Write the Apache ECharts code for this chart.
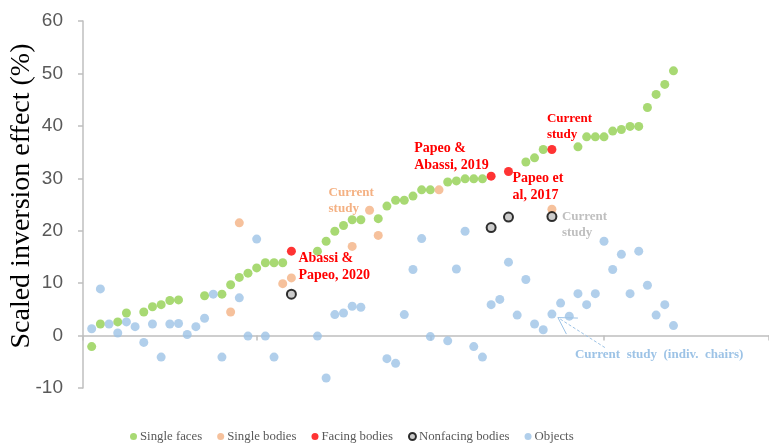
<!DOCTYPE html>
<html>
<head>
<meta charset="utf-8">
<script src="https://cdn.jsdelivr.net/npm/echarts@6/dist/echarts.min.js"></script>
<style>
  html, body { margin: 0; padding: 0; background: #fff; }
  #chart { width: 769px; height: 444px; }
</style>
</head>
<body>
<div id="chart"></div>
<script>
// Study index along x (1..68); null where a category has no study at that index
const singleFaces = [
  -2.1, 2.2, null, 2.6, 4.3, null, 4.5, 5.5, 5.9, 6.7,
  6.8, null, null, 7.6, null, 7.9, 9.7, 11.1, 11.9, 12.9,
  13.9, 13.9, 13.9, null, null, null, 16.1, 18.0, 19.9, 21.0,
  22.1, 22.1, null, 22.3, 24.7, 25.8, 25.8, 26.6, 27.8, 27.8,
  null, 29.3, 29.5, 29.9, 29.9, 29.9, null, null, null, null,
  33.1, 33.9, 35.5, null, null, null, 36.0, 37.9, 37.9, 37.9,
  39.0, 39.3, 39.9, 39.9, 43.5, 46.0, 47.9, 50.5
];
const objects = [
  1.3, 8.9, 2.2, 0.5, 2.6, 1.7, -1.3, 2.2, -4.1, 2.2,
  2.3, 0.2, 1.7, 3.3, 7.9, -4.1, null, 7.2, -0.1, 18.4,
  -0.1, -4.1, null, null, null, null, -0.1, -8.1, 4.0, 4.3,
  5.6, 5.4, null, null, -4.4, -5.3, 4.0, 12.6, 18.5, -0.2,
  null, -1.0, 12.7, 19.9, -2.1, -4.1, 5.9, 6.9, 14.0, 3.9,
  10.7, 2.2, 1.1, 4.1, 6.2, 3.7, 8.0, 5.9, 8.0, 18.0,
  12.6, 15.5, 8.0, 16.1, 9.6, 3.9, 5.9, 1.9
];
const singleBodiesIdx = [17, 18, 23, 24, 31, 33, 34, 41, 54];
const singleBodies    = [4.5, 21.5, 9.9, 11.0, 17.0, 23.9, 19.1, 27.8, 24.1];
const facingIdx       = [24, 47, 49, 54];
const facingBodies    = [16.1, 30.4, 31.3, 35.5];
const nonfacingIdx    = [24, 47, 49, 54];
const nonfacingBodies = [7.9, 20.6, 22.6, 22.7];
const yTicks = [-10, 0, 10, 20, 30, 40, 50, 60];

const seriesNames = ['Single faces', 'Single bodies', 'Facing bodies', 'Nonfacing bodies', 'Objects'];

function dense(vals) {
  const out = [];
  vals.forEach((v, i) => { if (v !== null) out.push([i + 1, v]); });
  return out;
}
function sparse(idx, vals) {
  return idx.map((x, i) => [x, vals[i]]);
}

const serif = '"Liberation Serif", "Times New Roman", serif';
const chart = echarts.init(document.getElementById('chart'));

chart.setOption({
  animation: false,
  backgroundColor: '#ffffff',
  grid: { left: 83, right: 0, top: 21, bottom: 56 },
  xAxis: {
    type: 'value', min: 0, max: 79, interval: 20,
    axisLine: { onZero: true, lineStyle: { color: '#bfbfbf', width: 1.5 } },
    axisTick: { show: true, length: 5, lineStyle: { color: '#bfbfbf', width: 1.5 } },
    axisLabel: { show: false },
    splitLine: { show: false }
  },
  yAxis: {
    type: 'value', min: yTicks[0], max: yTicks[yTicks.length - 1], interval: 10,
    axisLine: { show: true, onZero: false, lineStyle: { color: '#bfbfbf', width: 1.5 } },
    axisTick: { show: true, length: 5, lineStyle: { color: '#bfbfbf', width: 1.5 } },
    axisLabel: { color: '#595959', fontSize: 19, fontFamily: '"Liberation Sans", Arial, sans-serif', margin: 20 },
    splitLine: { show: false }
  },
  legend: {
    data: seriesNames,
    left: 125, top: 425,
    itemWidth: 7, itemHeight: 7, itemGap: 15,
    textStyle: { color: '#595959', fontSize: 12.8, fontFamily: serif, padding: [0, 0, 0, -2] }
  },
  series: [
    { name: 'Single faces', type: 'scatter', symbolSize: 9, data: dense(singleFaces),
      itemStyle: { color: '#92d050' } },
    { name: 'Single bodies', type: 'scatter', symbolSize: 9, data: sparse(singleBodiesIdx, singleBodies),
      itemStyle: { color: '#f4b183' } },
    { name: 'Facing bodies', type: 'scatter', symbolSize: 9, data: sparse(facingIdx, facingBodies),
      itemStyle: { color: '#ff0000' } },
    { name: 'Nonfacing bodies', type: 'scatter', symbolSize: 9, data: sparse(nonfacingIdx, nonfacingBodies),
      itemStyle: { color: '#bfbfbf', borderColor: '#000000', borderWidth: 2 } },
    { name: 'Objects', type: 'scatter', symbolSize: 9, data: dense(objects),
      itemStyle: { color: '#9dc3e6' } }
  ]
});

// Annotations anchored to their data points
function px(x, y) { return chart.convertToPixel({ gridIndex: 0 }, [x, y]); }
function note(anchor, dx, dy, text, color, size, lh) {
  return {
    type: 'text', x: anchor[0] + dx, y: anchor[1] + dy, z: 10,
    style: { text: text, fill: color, font: 'bold ' + size + 'px ' + serif,
             lineHeight: lh, textAlign: 'left', textVerticalAlign: 'top' }
  };
}
const pFacing2020 = px(facingIdx[0], facingBodies[0]);
const pFacing2019 = px(facingIdx[1], facingBodies[1]);
const pFacing2017 = px(facingIdx[2], facingBodies[2]);
const pFacingCur  = px(facingIdx[3], facingBodies[3]);
const pBodiesCur  = px(singleBodiesIdx[5], singleBodies[5]);
const pNonfCur    = px(nonfacingIdx[3], nonfacingBodies[3]);
const pChairs     = px(54, objects[53]);

const tip = [pChairs[0] + 6, pChairs[1] + 3.5];
const tail = [pChairs[0] + 53, pChairs[1] + 33.5];

chart.setOption({
  graphic: [
    {
      type: 'text', x: 22, y: 196, rotation: Math.PI / 2,
      style: { text: 'Scaled inversion effect (%)', fill: '#000000',
               font: '28px ' + serif, textAlign: 'center', textVerticalAlign: 'middle' }
    },
    note(pFacing2020, 7, -1.5, 'Abassi &\nPapeo, 2020', '#ff0000', 14, 17),
    note(pFacing2019, -77, -36, 'Papeo &\nAbassi, 2019', '#ff0000', 14, 17),
    note(pFacing2017, 4, -1.5, 'Papeo et\nal, 2017', '#ff0000', 14, 17),
    note(pFacingCur, -5, -39, 'Current\nstudy', '#ff0000', 13, 16),
    note(pBodiesCur, -41, -26, 'Current\nstudy', '#f4b183', 13, 16),
    note(pNonfCur, 10, -8, 'Current\nstudy', '#bfbfbf', 13, 16),
    note(pChairs, 23, 33, 'Current  study  (indiv.  chairs)', '#9dc3e6', 13, 16),
    {
      type: 'line', z: 10,
      shape: { x1: tail[0], y1: tail[1], x2: tip[0], y2: tip[1] },
      style: { stroke: '#9dc3e6', lineWidth: 1, lineDash: [3, 2] }
    },
    {
      type: 'polyline', z: 10,
      shape: { points: [[tip[0] + 20, tip[1] + 0.5], tip, [tip[0] + 8.5, tip[1] + 16.5]] },
      style: { stroke: '#9dc3e6', lineWidth: 1, fill: null }
    }
  ]
});
</script>
</body>
</html>
